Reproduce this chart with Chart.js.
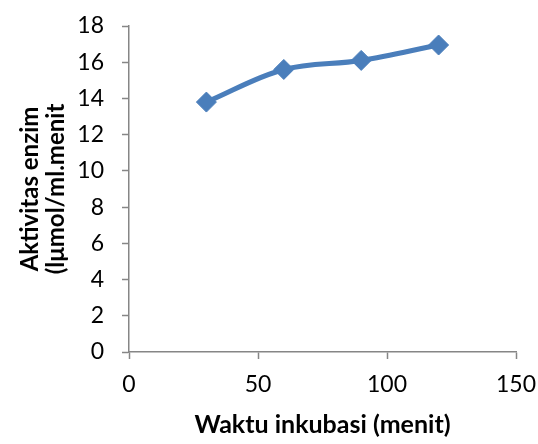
<!DOCTYPE html>
<html>
<head>
<meta charset="utf-8">
<script src="https://cdn.jsdelivr.net/npm/chart.js@4/dist/chart.umd.min.js"></script>
<style>
  html, body { margin: 0; padding: 0; background: #fff; }
  #wrap { width: 538px; height: 444px; }
</style>
</head>
<body>
<div id="wrap"><canvas id="chart" width="538" height="444"></canvas></div>
<script>
  var waktu = [30, 60, 90, 120];
  var aktivitas = [13.8, 15.6, 16.1, 16.95];
  var xTitle = 'Waktu inkubasi (menit)';
  var yTitle = ['Aktivitas enzim', '(lμmol/ml.menit'];

  var BLUE = '#4A7EBB';
  var AXIS = '#868686';
  var FONT = 'Lato, "Open Sans", sans-serif';

  var points = waktu.map(function (x, i) { return { x: x, y: aktivitas[i] }; });

  new Chart(document.getElementById('chart').getContext('2d'), {
    type: 'scatter',
    data: {
      datasets: [{
        data: points,
        showLine: true,
        borderColor: BLUE,
        backgroundColor: BLUE,
        borderWidth: 5,
        tension: 0.35,
        pointStyle: 'rectRot',
        pointRadius: 10,
        pointHoverRadius: 10,
        pointBorderWidth: 1
      }]
    },
    options: {
      responsive: false,
      animation: false,
      layout: { padding: { left: 0, right: 22, top: 26, bottom: 0 } },
      plugins: { legend: { display: false }, tooltip: { enabled: false } },
      scales: {
        x: {
          type: 'linear',
          min: 0, max: 150,
          ticks: { stepSize: 50, color: '#000', font: { family: FONT, size: 23 }, padding: 12 },
          grid: { drawOnChartArea: false, color: AXIS, tickLength: 7, tickWidth: 1.5 },
          border: { color: AXIS, width: 1.5 },
          title: { display: true, text: xTitle, color: '#000', font: { family: FONT, size: 25, weight: 'bold' }, padding: { top: 14 } },
          afterFit: function (s) { s.height = 92; s.paddingLeft = 0; s.paddingRight = 0; }
        },
        y: {
          min: 0, max: 18,
          ticks: { stepSize: 2, color: '#000', font: { family: FONT, size: 23 }, padding: 18 },
          grid: { drawOnChartArea: false, color: AXIS, tickLength: 7, tickWidth: 1.5 },
          border: { color: AXIS, width: 1.5 },
          title: { display: true, text: yTitle, color: '#000', font: { family: FONT, size: 24, weight: 'bold', lineHeight: 1.1 }, padding: { top: 17 } },
          afterFit: function (s) { s.width = 129; s.paddingTop = 0; s.paddingBottom = 0; }
        }
      }
    }
  });
</script>
</body>
</html>
